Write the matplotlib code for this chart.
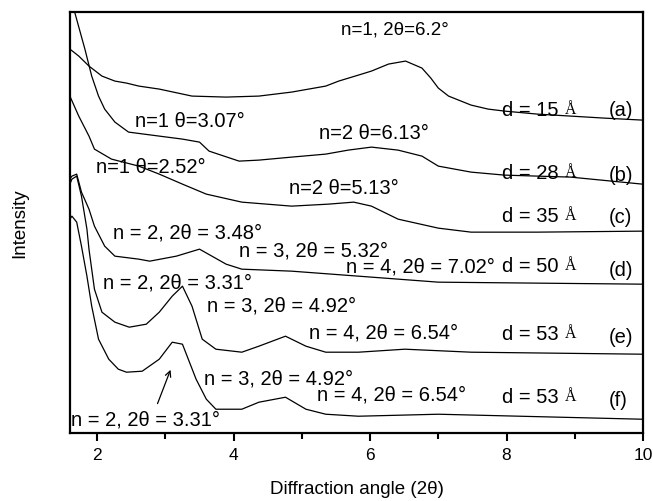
import matplotlib
matplotlib.use("Agg")
import matplotlib.pyplot as plt
from matplotlib.ticker import MultipleLocator

plt.rcParams['font.family'] = ['Liberation Sans', 'DejaVu Sans']

# ---- data (2theta in degrees, intensity in arbitrary units) ----
xa = [1.60, 1.73, 1.88, 2.07, 2.26, 2.43, 2.61, 2.91, 3.39, 3.89, 4.37, 4.85, 5.35, 5.54,
      5.83, 6.02, 6.27, 6.52, 6.76, 6.89, 7.00, 7.15, 7.48, 7.73, 7.97, 8.45, 8.94, 9.43, 9.99]
ya = [384, 377, 367, 357, 352, 350, 347, 344, 337, 336, 337, 341, 347, 352,
      358, 362, 369, 372, 365, 355, 345, 337, 328, 324, 322, 319, 317, 315, 313]

xb = [1.60, 1.67, 1.82, 1.92, 2.02, 2.11, 2.26, 2.46, 2.91, 3.25, 3.50, 3.64, 4.08, 4.37,
      4.85, 5.35, 5.68, 6.02, 6.41, 6.76, 7.00, 7.48, 7.97, 8.94, 9.99]
yb = [445, 421, 384, 357, 337, 324, 311, 301, 297, 294, 291, 282, 272, 273,
      276, 279, 283, 286, 283, 277, 267, 261, 258, 256, 249]

xc = [1.60, 1.73, 1.88, 1.96, 2.21, 2.61, 2.91, 3.25, 3.60, 4.12, 4.85, 5.39, 5.76, 6.02,
      6.41, 7.00, 7.48, 8.45, 9.99]
yc = [337, 317, 297, 284, 274, 267, 259, 249, 239, 231, 227, 229, 231, 227,
      214, 205, 201, 201, 202]

xd = [1.60, 1.63, 1.70, 1.77, 1.88, 1.96, 2.11, 2.26, 2.61, 2.77, 3.16, 3.50, 3.89, 4.12,
      4.85, 5.83, 7.00, 9.99]
yd = [254, 257, 259, 241, 224, 207, 187, 177, 174, 172, 177, 184, 169, 164,
      162, 157, 151, 149]

xe = [1.60, 1.63, 1.70, 1.77, 1.85, 1.88, 1.96, 2.07, 2.26, 2.47, 2.72, 2.91, 3.10, 3.25,
      3.39, 3.54, 3.74, 4.12, 4.37, 4.76, 5.06, 5.35, 5.83, 6.51, 7.48, 9.99]
ye = [249, 254, 257, 237, 204, 184, 144, 121, 111, 106, 109, 121, 137, 147,
      127, 94, 84, 81, 87, 97, 87, 81, 81, 84, 81, 79]

xf = [1.60, 1.63, 1.70, 1.77, 1.85, 1.92, 2.02, 2.17, 2.31, 2.43, 2.66, 2.91, 3.10, 3.25,
      3.45, 3.60, 3.74, 4.12, 4.37, 4.76, 5.06, 5.35, 5.83, 7.00, 9.99]
yf = [214, 217, 211, 187, 157, 127, 94, 74, 64, 61, 62, 74, 91, 89,
      54, 34, 24, 24, 31, 36, 24, 19, 17, 19, 14]

series = [(xa, ya), (xb, yb), (xc, yc), (xd, yd), (xe, ye), (xf, yf)]

peak_labels = ["n=1 θ=3.07°", "n=2 θ=6.13°", "n=1 θ=2.52°", "n=2 θ=5.13°",
               "n = 2, 2θ = 3.48°", "n = 3, 2θ = 5.32°", "n = 4, 2θ = 7.02°",
               "n = 2, 2θ = 3.31°", "n = 3, 2θ = 4.92°", "n = 4, 2θ = 6.54°",
               "n = 3, 2θ = 4.92°", "n = 4, 2θ = 6.54°", "n = 2, 2θ = 3.31°"]
peak_pos = [(2.55, 313), (5.25, 301), (1.99, 267), (4.81, 246),
            (2.23, 201), (4.08, 183), (5.65, 167),
            (2.08, 151), (3.61, 128), (5.10, 101),
            (3.57, 55), (5.22, 39), (1.61, 14)]
top_label = "n=1, 2θ=6.2°"
top_pos = (5.57, 404)

d_labels = ["d = 15", "d = 28", "d = 35", "d = 50", "d = 53", "d = 53"]
d_y = [324, 261, 218, 168, 100, 37]
curve_tags = ["(a)", "(b)", "(c)", "(d)", "(e)", "(f)"]
tag_y = [324, 259, 217, 164, 97, 34]

# ---- figure ----
fig = plt.figure(figsize=(6.53, 5.02), dpi=100)
ax = fig.add_axes([0.107, 0.135, 0.8777, 0.839])

for x, y in series:
    ax.plot(x, y, color='black', lw=0.9)

ax.set_xlim(1.6, 10)
ax.set_ylim(0, 421)

fs = 14.5
ax.text(*top_pos, top_label, fontsize=13.5, ha='left', va='center')
for s, (px, py) in zip(peak_labels, peak_pos):
    ax.text(px, py, s, fontsize=fs, ha='left', va='center')

for s, py in zip(d_labels, d_y):
    t = ax.text(7.94, py, s + " ", fontsize=fs, ha='left', va='center')
    ax.annotate("Å", xy=(1.0, 0.5), xycoords=t, ha='left', va='center',
                fontsize=11.5, family=['Liberation Serif', 'DejaVu Serif'])

for s, py in zip(curve_tags, tag_y):
    ax.text(9.50, py, s, fontsize=fs, ha='left', va='center')

ax.annotate("", xy=(3.09, 66), xytext=(2.87, 27),
            arrowprops=dict(arrowstyle='->', color='black', lw=0.9))

ax.set_yticks([])
ax.xaxis.set_major_locator(MultipleLocator(2))
ax.xaxis.set_minor_locator(MultipleLocator(1))
ax.tick_params(axis='x', which='major', direction='out', length=6, width=1.5,
               labelsize=12.5, pad=4, top=False)
ax.tick_params(axis='x', which='minor', direction='out', length=4, width=1.5, top=False)
for sp in ax.spines.values():
    sp.set_linewidth(1.6)

ax.set_xlabel("Diffraction angle (2θ)", fontsize=13.5, labelpad=13)
ax.set_ylabel("Intensity", fontsize=13.5, labelpad=30)

fig.savefig("out.png", dpi=100)
